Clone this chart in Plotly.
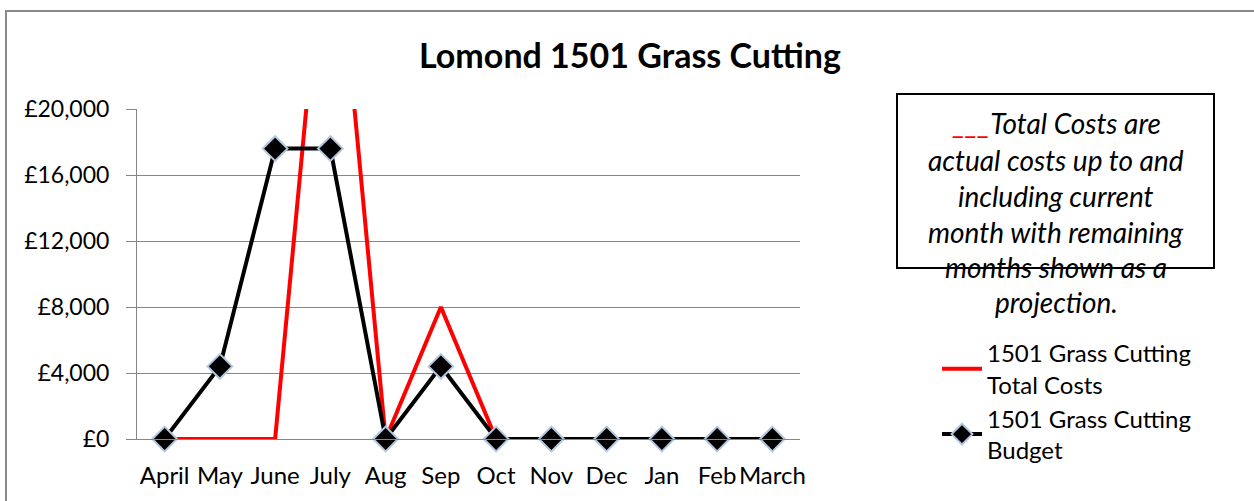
import plotly.graph_objects as go

months = ["April", "May", "June", "July", "Aug", "Sep", "Oct", "Nov", "Dec", "Jan", "Feb", "March"]
total_costs = [0, 0, 0, 35500, 0, 8000, 0, 0, 0, 0, 0, 0]
budget = [0, 4400, 17600, 17600, 0, 4400, 0, 0, 0, 0, 0, 0]
y_ticks = [0, 4000, 8000, 12000, 16000, 20000]
y_tick_labels = ["£0", "£4,000", "£8,000", "£12,000", "£16,000", "£20,000"]
note_lines = ["<span style='color:#ff0000'>___</span>Total Costs are", "actual costs up to and",
              "including current", "month with remaining", "months shown as a", "projection."]

W, H = 1254, 501
L, R, T, B = 137, 800, 109, 439


def px(x):
    return (x - L) / (R - L)


def py(y):
    return (B - y) / (B - T)


FONT = "Lato"

fig = go.Figure()
fig.add_trace(go.Scatter(
    x=months, y=total_costs, mode="lines", name="1501 Grass Cutting<br>Total Costs",
    line=dict(color="#ff0000", width=4), cliponaxis=True))
fig.add_trace(go.Scatter(
    x=months, y=budget, mode="lines+markers", name="1501 Grass Cutting<br>Budget",
    line=dict(color="#000000", width=4),
    marker=dict(symbol="diamond", size=19, color="#000000", line=dict(color="#b4c6df", width=2)),
    cliponaxis=False))

shapes = [
    dict(type="rect", xref="paper", yref="paper", x0=px(6), x1=px(1262), y0=py(11), y1=py(510),
         line=dict(color="#8a8a8a", width=2), layer="below"),
    dict(type="rect", xref="paper", yref="paper", x0=px(897), x1=px(1214), y0=py(94), y1=py(268),
         line=dict(color="#000000", width=2), fillcolor="rgba(0,0,0,0)"),
]

line_y = [123, 160, 196, 232, 267, 302]
annotations = []
for txt, yy in zip(note_lines, line_y):
    annotations.append(dict(text=txt, xref="paper", yref="paper", x=px(1056), y=py(yy),
                            xanchor="center", yanchor="middle", showarrow=False,
                            font=dict(family=FONT, size=28, color="#000000", style="italic")))

fig.update_layout(
    width=W, height=H,
    margin=dict(l=L, r=W - R, t=T, b=H - B, pad=0),
    paper_bgcolor="white", plot_bgcolor="white",
    title=dict(text="<b>Lomond 1501 Grass Cutting</b>", x=630 / W, xanchor="center",
               y=1 - 56 / H, yanchor="middle", font=dict(family=FONT, size=34, color="#000000")),
    xaxis=dict(type="category", range=[-0.5, 11.5], showgrid=False, showline=True,
               linecolor="#868686", linewidth=1, ticks="", tickfont=dict(family=FONT, size=24, color="#000000"),
               zeroline=False, fixedrange=True, ticklabelstandoff=15),
    yaxis=dict(range=[0, 20000], tickvals=y_ticks, ticktext=y_tick_labels, showgrid=True,
               gridcolor="#868686", gridwidth=1, showline=True, linecolor="#868686", linewidth=1,
               ticks="outside", ticklen=10, tickcolor="#868686",
               tickfont=dict(family=FONT, size=23, color="#000000"), zeroline=False,
               ticklabelstandoff=12),
    showlegend=True,
    legend=dict(x=px(937), y=py(331), xanchor="left", yanchor="top",
                font=dict(family=FONT, size=24, color="#000000"), bgcolor="rgba(0,0,0,0)",
                tracegroupgap=0, itemwidth=40),
    shapes=shapes,
    annotations=annotations,
)

fig.write_html("out.html", config={"displayModeBar": False},
               post_script="document.body.style.margin='0';document.body.style.overflow='hidden';")
